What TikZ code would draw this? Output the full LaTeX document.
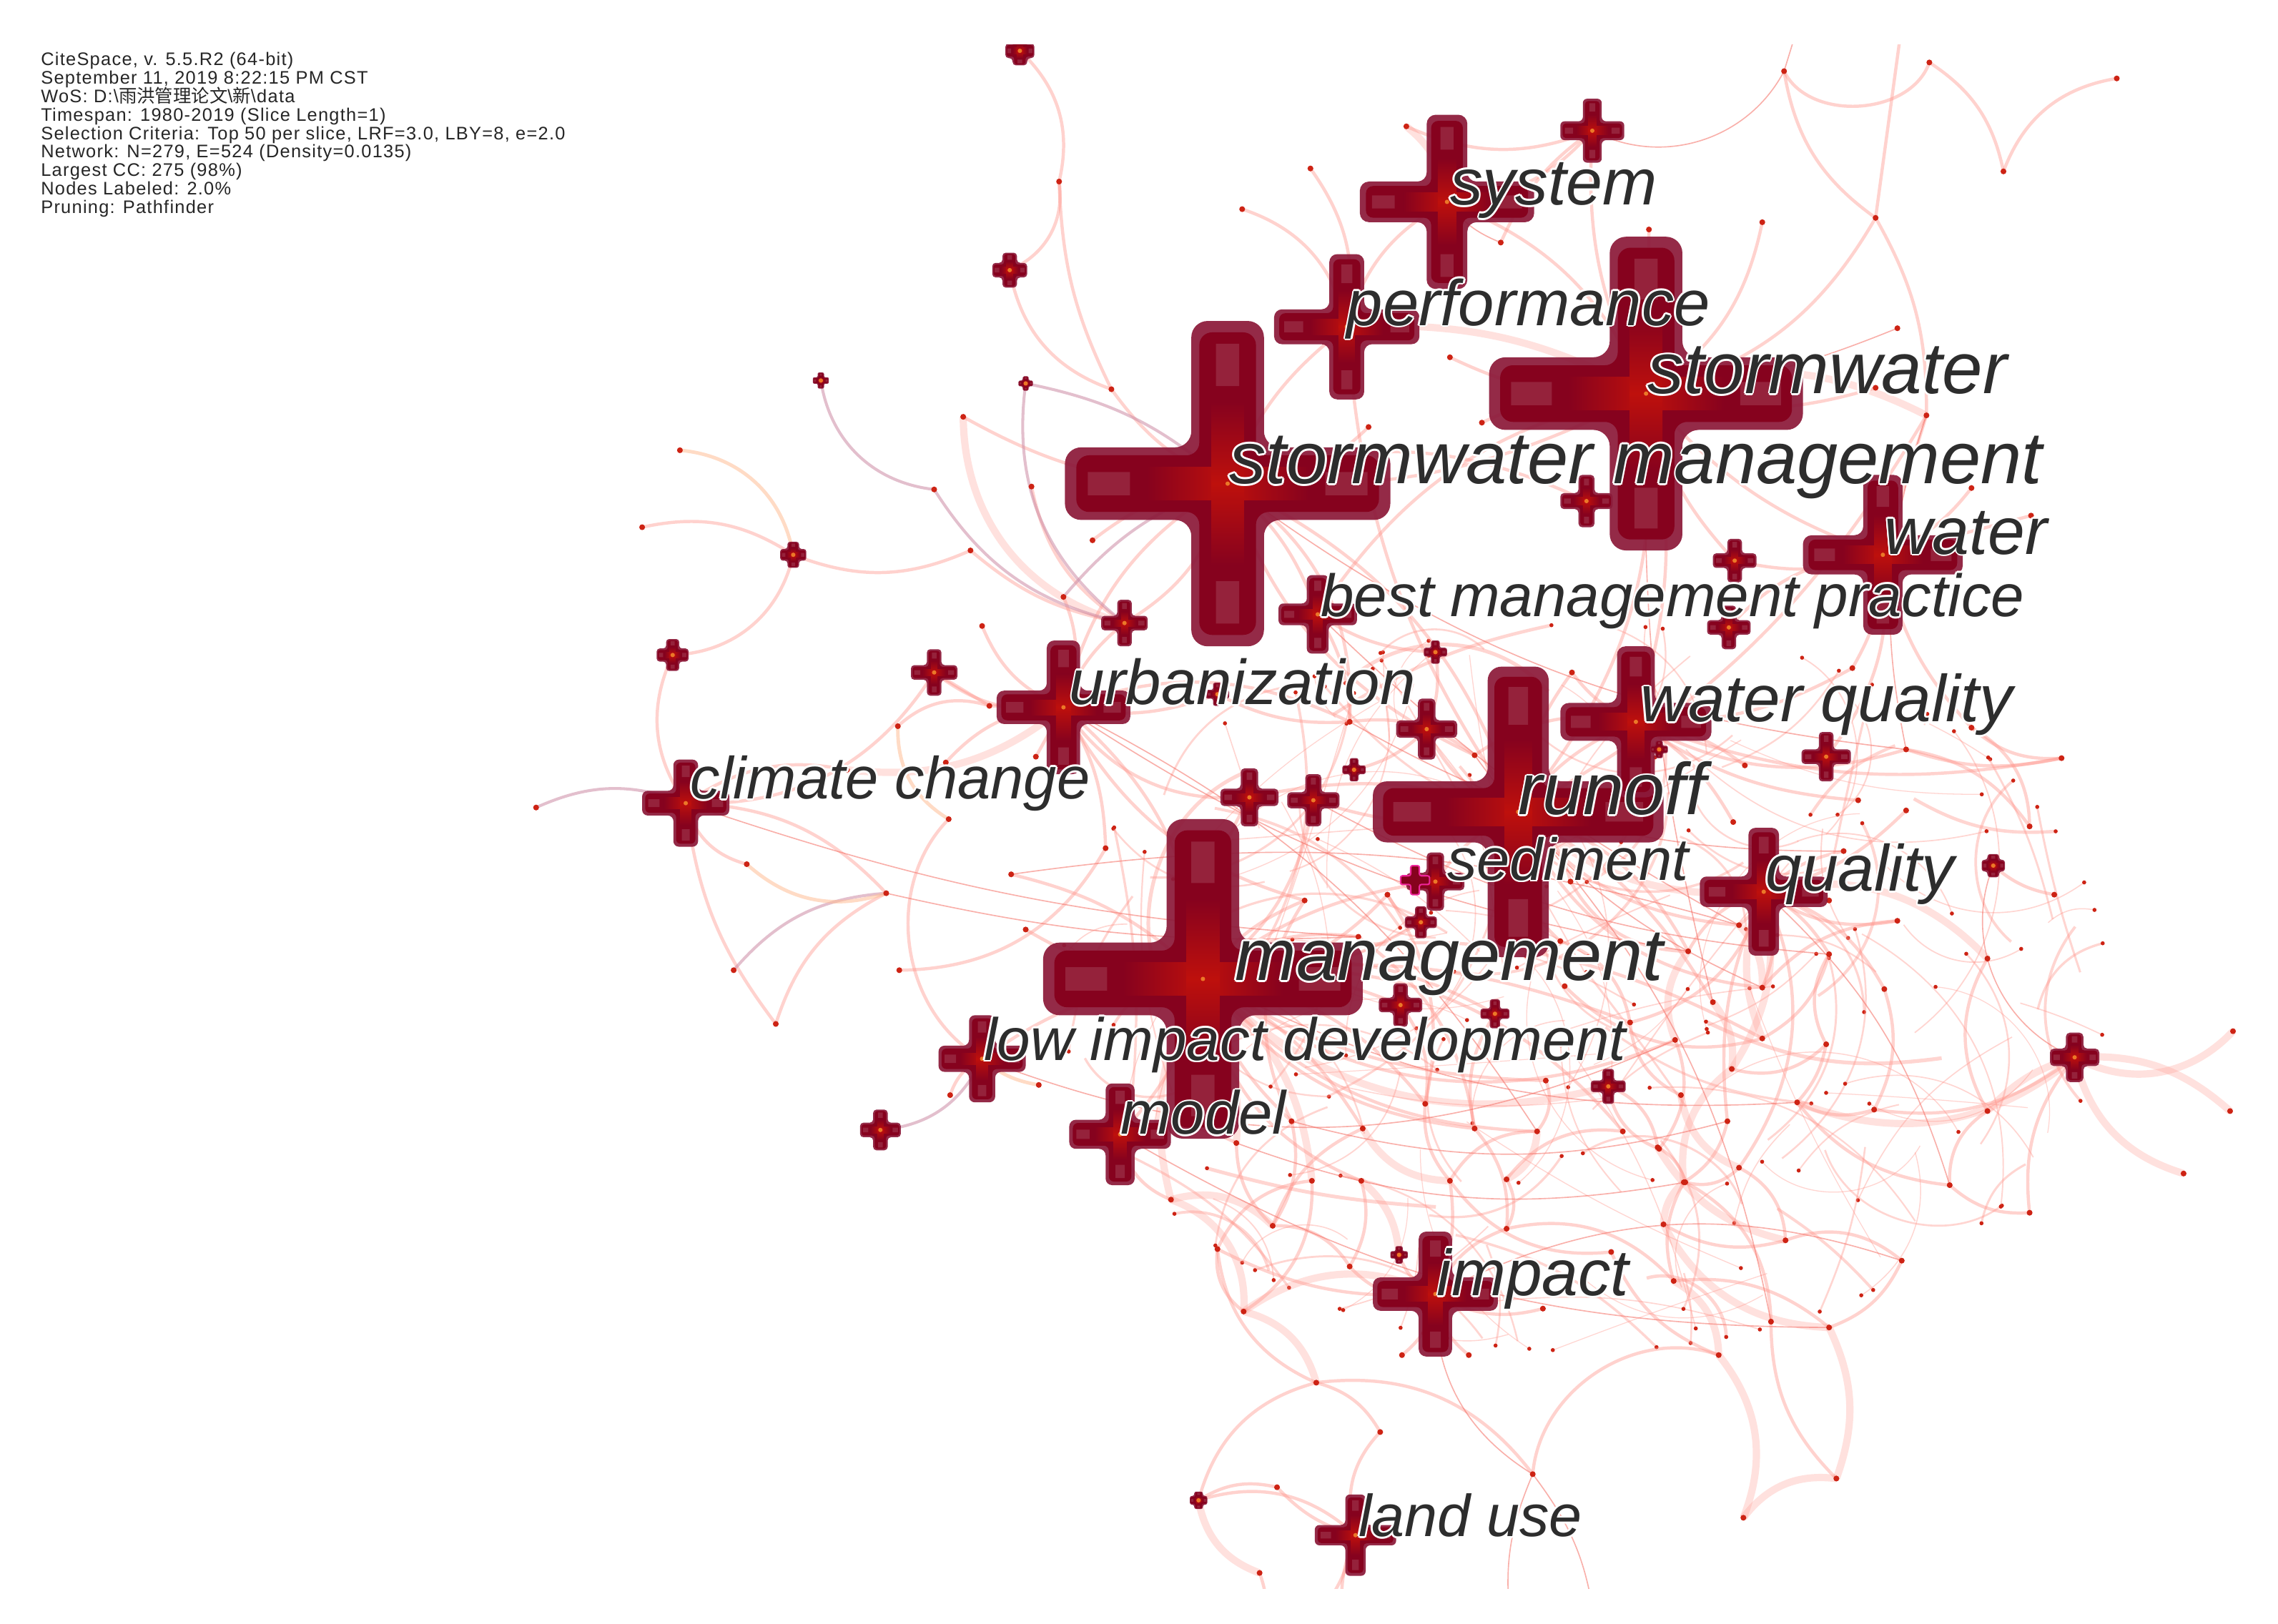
\documentclass[tikz,border=0pt]{standalone}
\usepackage{fontspec}
\setmainfont{Liberation Sans}
\newfontfamily\cjk{Noto Sans CJK SC}
\newfontfamily\hdrf{Liberation Sans}[LetterSpace=5]
\definecolor{crim}{RGB}{140,26,58}
\definecolor{ccore}{RGB}{134,2,30}
\definecolor{cglow}{RGB}{190,16,12}
\definecolor{corange}{RGB}{235,120,40}
\definecolor{edgec}{RGB}{255,150,140}
\definecolor{edgeh}{RGB}{245,110,100}
\definecolor{edgep}{RGB}{205,140,165}
\definecolor{edgeo}{RGB}{255,190,150}
\definecolor{dotc}{RGB}{205,35,20}
\definecolor{lblc}{RGB}{45,45,45}
\tikzset{
  eM/.style={draw=edgec, line width=2.2pt, opacity=0.42},
  eT/.style={draw=edgec, line width=5pt, opacity=0.28},
  eH/.style={draw=edgeh, line width=0.8pt, opacity=0.55},
  eP/.style={draw=edgep, line width=2pt, opacity=0.55},
  eO/.style={draw=edgeo, line width=2.4pt, opacity=0.55},
  lblhalo/.style={anchor=base west, inner sep=0pt, text=white},
  lbltext/.style={anchor=base west, inner sep=0pt, text=lblc},
  hdr/.style={anchor=base west, inner sep=0pt, text=black!85, font=\hdrf\fontsize{12.5}{13}\selectfont},
}
\newcommand\plusfill[5]{%
  \pgfmathsetlengthmacro\krc{0.45*#5*1pt}%
  \fill[#1, rounded corners=\krc] (#2-#4,#3-#5) -- (#2-#5,#3-#5) -- (#2-#5,#3-#4) -- (#2+#5,#3-#4) -- (#2+#5,#3-#5) -- (#2+#4,#3-#5) -- (#2+#4,#3+#5) -- (#2+#5,#3+#5) -- (#2+#5,#3+#4) -- (#2-#5,#3+#4) -- (#2-#5,#3+#5) -- (#2-#4,#3+#5) -- cycle;}
\newcommand\kw[4]{%
  \plusfill{crim, opacity=0.93}{#1}{#2}{#3}{#4}%
  \pgfmathsetmacro\kLi{0.93*#3}\pgfmathsetmacro\kTi{0.78*#4}%
  \plusfill{ccore}{#1}{#2}{\kLi}{\kTi}%
  \pgfmathsetmacro\kLg{0.5*#3}\pgfmathsetmacro\kTg{0.45*#4}%
  \shade[left color=ccore, right color=ccore, middle color=cglow] (#1-\kLg,#2-\kTg) rectangle (#1+\kLg,#2+\kTg);
  \shade[top color=ccore, bottom color=ccore, middle color=cglow] (#1-\kTg,#2-\kLg) rectangle (#1+\kTg,#2+\kLg);
  \pgfmathsetmacro\kLa{0.86*#3}\pgfmathsetmacro\kLb{0.6*#3}\pgfmathsetmacro\kTa{0.32*#4}%
  \fill[white, opacity=0.13] (#1-\kLa,#2-\kTa) rectangle (#1-\kLb,#2+\kTa) (#1+\kLb,#2-\kTa) rectangle (#1+\kLa,#2+\kTa) (#1-\kTa,#2-\kLa) rectangle (#1+\kTa,#2-\kLb) (#1-\kTa,#2+\kLb) rectangle (#1+\kTa,#2+\kLa);
  \fill[corange] (#1,#2) circle (1.5pt);}
\newcommand\lbl[5]{%
  \foreach \ddx/\ddy in {1.3/0,-1.3/0,0/1.3,0/-1.3,0.9/0.9,-0.9/0.9,0.9/-0.9,-0.9/-0.9}
    \node[lblhalo, font=\fontsize{#4}{#4}\selectfont\itshape] at (#2+\ddx,#3+\ddy) {#5};
  \node[lbltext, font=\fontsize{#4}{#4}\selectfont\itshape] (#1) at (#2,#3) {#5};}
\def\hublist{swm/845/333/112/25, sw/1133/271/108/25, mg/828/674/110/25, ro/1045/559/100/21,
 sy/996/139/60/14, pf/927/225/50/12, wa/1296/382/55/13.5, wq/1126/497/52/13, ur/732/487/46/11.5,
 cc/472/553/30/8.5, qu/1214/614/44/10.5, lid/676/729/30/9, mo/771/781/35/10, im/988/891/43/11.5,
 lu/933/1057/28/7, bmp/907/423/27/7.5,
 k702/702/35/10/5, k695/695/186/12/5, k565/565/262/5.5/2.2, k706/706/264/5/2, k546/546/382/9/4,
 k462/463/451/11/4.5, k774/774/429/16/5, k643/643/463/16/5, k1096/1096/90/22/6.5,
 k1093/1092/345/18/5.5, k1193/1194/386/15/5, k1188/1190/432/15/5, k1257/1257/521/17/5,
 k982/982/502/21/6, k859/860/549/20/6, k904/904/551/18/5.5, k988/988/449/8/3, k932/932/530/8/3,
 k838/838/478/8/3, sed/988/607/20/6, k977/978/635/11/4, k1029/1029/698/10/3.5, k967/964/692/15/5,
 k1105/1107/748/12/4, k1372/1372/596/8/4, k1428/1428/728/17/6, k604/606/778/14/5, k1142/1142/516/6/2.5,
 kf1/963/864/6/2.5, kf28/825/1033/6/3}
\def\dotlist{a2/729/125, a3/765/268, a4/855/144, a5/902/116, a6/968/87, a7/663/287, a8/942/294,
 a9/1020/291, a10/998/246, a11/468/310, a12/442/363, a13/643/337, a14/710/335, a15/668/379,
 a16/752/372, a17/732/411, a18/369/556, a19/681/486, a20/618/500, a21/676/431, a22/713/521,
 a23/653/564, a24/583/530, a25/651/525, a26/514/595, a27/761/584, a28/696/602, a29/610/615,
 a30/505/668, a31/534/705, a32/619/668, a33/706/640, a34/654/754, a35/715/747,
 b1/1228/49, b2/1328/43, b3/1457/54, b4/1379/118, b5/1291/150, b6/1306/226, b7/1326/286,
 b8/1213/153, b9/1135/158, b10/1033/167, b11/1291/267, b12/1357/336, b13/1398/355,
 c1/1419/522, c2/1397/569, c3/1357/501, c4/1312/516, c5/1279/551, c6/1312/558, c7/1269/586,
 c8/1306/634, c9/1259/657, c10/1368/660, c11/1297/681, c12/1257/719, c13/1237/759, c14/1290/764,
 c15/1368/765, c16/1537/710, c17/1535/765, c18/1503/808, c19/1342/816, c20/1397/835, c21/1414/616,
 c22/1275/460, c23/1201/527, c24/1193/566,
 e1/1082/463, e2/1197/637, e3/1162/655, e4/1213/680, e5/1179/690, e6/1122/704, e7/1153/716,
 e8/1213/715, e9/1192/736, e10/1064/744, e11/1157/754, e12/1189/772, e13/1117/779, e14/1058/779,
 e15/1142/791, e16/1197/804, e17/1159/814, e18/1037/812, e19/981/760, e20/1015/777, e21/938/777,
 e22/889/772, e23/903/813, e24/937/813, e25/929/497, e26/1015/520, e27/1081/607, e28/1074/648,
 e29/1077/679, e30/898/620, e31/955/616, e32/1259/620, e33/935/645,
 f2/1062/901, f3/929/872, f4/856/903, f5/838/860, f6/876/844, f7/806/826, f8/851/787, f9/998/813,
 f10/1037/846, f11/1141/790, f12/1160/814, f13/1145/843, f14/1229/854, f15/1109/862, f16/1152/882,
 f17/1219/910, f18/1259/914, f19/1309/868, f20/965/933, f21/1011/933, f22/906/952, f23/950/986,
 f24/1183/933, f25/1055/1015, f26/1264/1018, f27/1200/1045, f29/879/1024, f30/867/1083}
\begin{document}
\begin{tikzpicture}[x=1pt,y=-1pt]
\useasboundingbox (0,0) rectangle (1568,1118);
\fill[white] (0,0) rectangle (1568,1118);
% coordinates
\foreach \n/\x/\y/\L/\T in \hublist {\coordinate (\n) at (\x,\y);}
\foreach \n/\x/\y in \dotlist {\coordinate (\n) at (\x,\y);}
\foreach \n/\x/\y in {o1/1240/10, o2/1310/10, g1/900/1120, g2/925/1120, g3/1098/1120, g4/870/1120, g5/1040/1120} {\coordinate (\n) at (\x,\y);}
\begin{scope}
\clip (0,31) rectangle (1568,1094);
% supplementary short arcs in the dense core (seeded, reproducible, kept inside an ellipse)
\pgfmathsetseed{20190911}
\foreach \i in {1,...,160} {
  \pgfmathsetmacro\rr{sqrt(rnd)}
  \pgfmathsetmacro\rth{rnd*360}
  \pgfmathsetmacro\rxa{1090+360*\rr*cos(\rth)}
  \pgfmathsetmacro\rya{680+250*\rr*sin(\rth)}
  \pgfmathsetmacro\rang{rnd*360}
  \pgfmathsetmacro\rlen{70+rnd*160}
  \pgfmathsetmacro\rxc{\rxa+\rlen*cos(\rang)}
  \pgfmathsetmacro\ryc{\rya+\rlen*sin(\rang)}
  \pgfmathsetmacro\rq{max(1,sqrt(((\rxc-1090)/360)^2+((\ryc-680)/250)^2))}
  \pgfmathsetmacro\rxb{1090+(\rxc-1090)/\rq}
  \pgfmathsetmacro\ryb{680+(\ryc-680)/\rq}
  \pgfmathsetmacro\rbd{(rnd-0.5)*110}
  \pgfmathsetlengthmacro\rlw{(0.6+2.2*rnd*rnd)*1pt}
  \coordinate (ra\i) at (\rxa,\rya);
  \coordinate (rb\i) at (\rxb,\ryb);
  \draw[draw=edgec, line width=\rlw, opacity=0.4] (ra\i) to[bend left=\rbd] (rb\i);
  \fill[dotc] (rb\i) circle (1.4pt);
}
% thick edges
\foreach \ea/\eb/\eben in {a7/k774/-25, a24/ur/-15, qu/c10/20, c13/k1428/-20, c15/k1428/10, k1428/c16/-25,
 k1428/c17/15, k1428/c18/-20, mg/e23/15, mg/f8/10, mg/f7/-15, qu/e8/-15, qu/e9/15, e9/e17/-20,
 e11/e16/-20, e14/e18/20, e17/f13/-15, e21/f9/-20, e24/kf1/15, ro/qu/-15, mg/k1105/-20, im/f4/-20,
 f6/f7/-20, f7/f4/25, f11/f14/-15, f13/f18/-20, f16/f24/20, f18/f26/15, f24/f27/20, f26/f27/-20,
 kf28/f30/-20, f4/f22/20, b7/sw/-15, a6/sy/15, pf/sw/10, e5/e9/15, e3/e7/-20, e2/e4/15}
  {\pgfmathsetmacro\ebb{1.5*\eben}\draw[eT] (\ea) to[bend left=\ebb] (\eb);}
% medium edges
\foreach \ea/\eb/\eben in {k702/a2/20, a2/k695/25, a2/a3/-8, k695/a3/-20, a3/swm/-10, a4/pf/20, a5/pf/15,
 a12/k546/15, k546/a15/-15, a15/k774/-10, k546/k462/25, k462/cc/-20, a14/k774/-15, a16/swm/10,
 a21/ur/-15, k643/a19/0, a20/a19/20, a19/ur/0, cc/a26/-20, cc/a29/15, a29/a31/-15, cc/a31/-10,
 a32/a27/-20, a28/mg/10, a33/mg/-10, a34/lid/15, a23/lid/-35, a25/ur/15, a22/ur/0, k643/ur/-15,
 b1/b2/-45, b1/b5/-15, o2/b5/0, b2/b4/15, b3/b4/-20, b5/b7/10, b5/sw/15, b8/sw/15, b9/sw/0,
 b7/wa/0, b11/sw/10, b12/wa/10, b13/wa/0, b7/ro/10, wa/c3/-10, wa/c22/10, c3/c1/-15, c4/c1/-10,
 c4/c2/15, c3/c2/20, c5/wq/10, c6/qu/10, c7/qu/-10, qu/c8/-15, qu/c9/10, qu/c11/15, c9/c12/-20,
 c12/c13/10, c14/k1428/-15, k1372/c21/-10, c19/c20/-15, c19/c13/15, wq/c22/-10, wq/c23/10,
 wq/c24/10, wq/c4/-15, wq/c1/-10, ro/e1/10, ro/e2/-15, ro/e3/15, ro/e4/-20, ro/e5/10, mg/e6/10,
 mg/e7/-20, mg/e8/15, mg/e10/-10, mg/e13/20, mg/e14/-15, mg/e19/15, mg/e20/-15, mg/e21/10,
 mg/e22/-10, mg/e24/-20, qu/e2/10, qu/e3/-15, qu/e4/15, qu/e6/20, qu/e12/-10, qu/e16/20,
 e6/e11/-20, e7/e15/20, e10/e14/20, e12/e17/15, e13/e18/-20, e15/f11/-15, e16/f12/20, e18/f10/20,
 e19/f9/-15, e20/f10/15, e22/f6/15, e23/f5/-20, swm/bmp/10, swm/ur/-15, swm/ro/15, swm/e25/20,
 swm/e26/-15, swm/sw/-10, sw/ro/15, sw/wa/-10, sw/wq/10, sw/bmp/-15, swm/k1093/15, sw/k1193/-10,
 wa/k1193/10, wa/k1188/-15, wa/k1257/15, bmp/e25/10, bmp/k988/-10, ro/wq/10, ro/k982/15,
 ro/k859/-10, ro/k904/10, ro/sed/-10, ro/e27/15, ro/e28/-20, mg/k859/10, mg/k904/-15, mg/sed/10,
 mg/k977/-10, mg/k1029/15, mg/k967/10, mg/ur/-15, mg/e30/10, mg/e31/-15, mg/e33/15, mg/lid/-10,
 mg/mo/10, ur/e30/-15, ur/a27/10, ur/k859/-20, ur/e25/15, wq/e1/10, wq/e26/-15, qu/e32/10,
 e27/e3/-20, e28/e6/20, e29/e8/-20, e31/e19/15, e30/e22/-20, e33/e20/15, k1105/f11/20,
 k1105/e15/-20, im/kf1/15, im/f2/-15, im/f3/20, im/f20/15, im/f21/-15, im/f5/10, im/f9/-10,
 im/f10/15, f6/f3/20, f5/f4/-20, f8/f6/-15, f9/f15/-20, f10/f16/20, f12/f17/20, f14/f19/20,
 f15/f24/-15, f17/f26/-15, f25/f24/35, f25/f22/-20, f22/kf28/-20, kf28/f29/15, kf28/lu/20,
 f29/lu/-10, f22/f23/15, f23/lu/-20, lu/g1/10, lu/g2/-10, f30/g4/10, f5/f22/-20, mo/f7/-20,
 mo/f8/15, a9/sw/10, a10/sw/-10, a8/swm/15, pf/swm/-10, pf/ro/-10, sy/sw/15, sy/pf/-15,
 k1096/sw/-10, k1096/sy/15, a6/k1096/-15, b10/k1096/10, swm/a7/10, ur/k774/10, ur/a17/-15,
 swm/k774/15, cc/k643/-20, cc/a24/15, e25/e26/15, k988/k982/10, k932/k982/-10, k838/ur/10,
 k838/e25/-10, c10/c15/-20, c11/c14/15, c13/c14/-15, c12/e9/20, c8/e4/-15, c9/e8/15,
 c20/k1428/15, c15/c19/-20, f18/f19/-15, f16/f18/15, f13/f14/-15, f11/f12/15, e17/f16/-15,
 e16/f14/20, e14/f9/-20, e24/f3/15, e21/f6/-15, e23/f4/20, k977/e31/15, k1029/e20/-15,
 k967/e19/15, k1142/wq/10}
  {\pgfmathsetmacro\ebb{1.5*\eben}\draw[eM] (\ea) to[bend left=\ebb] (\eb);}
% thin edges
\foreach \ea/\eb/\eben in {b1/k1096/30, b6/sw/5, b10/sy/10, a29/e33/-5, k1428/k1372/30, f25/g3/10,
 f25/g5/-10, o1/b1/0, e22/e12/-10, e26/e4/-10, bmp/e2/-5, ur/e3/-8, mg/c13/-10, qu/c19/10,
 swm/c4/-10, lid/e7/-15, im/f19/15, im/f25/-20, f8/f12/-10, mo/f18/-10, e25/c7/-10, ro/f17/10,
 k904/c9/-8, ur/e14/10, cc/e33/-5, a28/e2/8, sw/e5/-5, b7/c4/-10}
  {\pgfmathsetmacro\ebb{1.5*\eben}\draw[eH] (\ea) to[bend left=\ebb] (\eb);}
% purple edges
\foreach \ea/\eb/\eben in {k565/a13/-25, a13/k774/-15, a18/cc/15, k706/swm/10, k706/k774/-20,
 a17/swm/10, a29/a30/-15, k604/lid/-20}
  {\pgfmathsetmacro\ebb{1.5*\eben}\draw[eP] (\ea) to[bend left=\ebb] (\eb);}
% orange edges
\foreach \ea/\eb/\eben in {a11/k546/25, a20/a23/-20, a29/a26/20, a35/lid/10}
  {\pgfmathsetmacro\ebb{1.5*\eben}\draw[eO] (\ea) to[bend left=\ebb] (\eb);}
% dots
\foreach \n/\x/\y in \dotlist {\fill[dotc] (\x,\y) circle (2pt);}
% crosses
\foreach \n/\x/\y/\L/\T in \hublist {\kw{\x}{\y}{\L}{\T}}
\plusfill{draw=magenta!85, line width=1pt, fill=ccore}{974}{606}{10}{3}
\end{scope}
% labels
\lbl{Lsy}{998}{141}{45}{system}
\lbl{Lpf}{927}{224}{44.5}{performance}
\lbl{Lsw}{1134}{271}{50}{stormwater}
\lbl{Lswm}{846}{333}{50.6}{stormwater management}
\lbl{Lwa}{1297}{381.5}{45.8}{water}
\lbl{Lbmp}{909}{424.5}{41.1}{best management practice}
\lbl{Lur}{736}{485}{43.7}{urbanization}
\lbl{Lwq}{1129}{497}{45.6}{water quality}
\lbl{Lcc}{475}{550}{40.9}{climate change}
\lbl{Lro}{1045}{561}{50.4}{runoff}
\lbl{Lsed}{996}{606}{40.9}{sediment}
\lbl{Lqu}{1215}{613.5}{45}{quality}
\lbl{Lmg}{850}{675}{50.5}{management}
\lbl{Llid}{677}{730}{41.2}{low impact development}
\lbl{Lmo}{771}{781}{41.9}{model}
\lbl{Lim}{989}{892}{44.8}{impact}
\lbl{Llu}{935}{1058}{40.7}{land use}
% header
\node[hdr] (h1) at (28,45) {CiteSpace, v. 5.5.R2 (64-bit)};
\node[hdr] (h2) at (28,57.75) {September 11, 2019 8:22:15 PM CST};
\node[hdr] (h3) at (28,70.5) {WoS: D:\textbackslash{\cjk 雨洪管理论文}\textbackslash{\cjk 新}\textbackslash data};
\node[hdr] (h4) at (28,83.25) {Timespan: 1980-2019 (Slice Length=1)};
\node[hdr] (h5) at (28,96) {Selection Criteria: Top 50 per slice, LRF=3.0, LBY=8, e=2.0};
\node[hdr] (h6) at (28,108.75) {Network: N=279, E=524 (Density=0.0135)};
\node[hdr] (h7) at (28,121.5) {Largest CC: 275 (98\%)};
\node[hdr] (h8) at (28,134.25) {Nodes Labeled: 2.0\%};
\node[hdr] (h9) at (28,147) {Pruning: Pathfinder};
\end{tikzpicture}
\end{document}
